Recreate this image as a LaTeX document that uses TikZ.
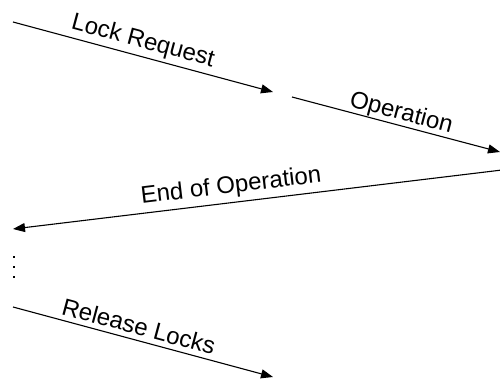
\documentclass[tikz,border=0pt]{standalone}
\usepackage{fontspec}
\setmainfont{Liberation Sans}
\usetikzlibrary{arrows.meta}
\begin{document}
\begin{tikzpicture}[x=1pt,y=-1pt,
  msg/.style={line width=1.1pt, -{Triangle[length=12pt,width=9pt]}},
  lbl/.style={sloped, inner sep=0pt, text depth=0pt, font=\fontsize{24}{28}\selectfont},
  dotmark/.style={fill=black, inner sep=0pt, minimum size=2.6pt, rectangle}]
\useasboundingbox (0,0) rectangle (500,382);
\clip (0,0) rectangle (500,382);
% message end points
\coordinate (a1) at (13,22);   \coordinate (b1) at (273,92);
\coordinate (a2) at (292,97);  \coordinate (b2) at (500,152);
\coordinate (a3) at (502,170); \coordinate (b3) at (13,229);
\coordinate (a4) at (13,307);  \coordinate (b4) at (273,377);
% messages
\draw[msg] (a1) -- node[lbl, above=8pt, pos=0.485] {Lock Request} (b1);
\draw[msg] (a2) -- node[lbl, above=5pt, pos=0.51] {Operation} (b2);
\draw[msg] (a3) -- node[lbl, above=9pt, pos=0.55] {End of Operation} (b3);
\draw[msg] (a4) -- node[lbl, above=5pt, pos=0.47] {Release Locks} (b4);
% continuation dots
\node[dotmark] (d1) at (14,257) {};
\node[dotmark] (d2) at (14,267) {};
\node[dotmark] (d3) at (14,277) {};
\end{tikzpicture}
\end{document}
